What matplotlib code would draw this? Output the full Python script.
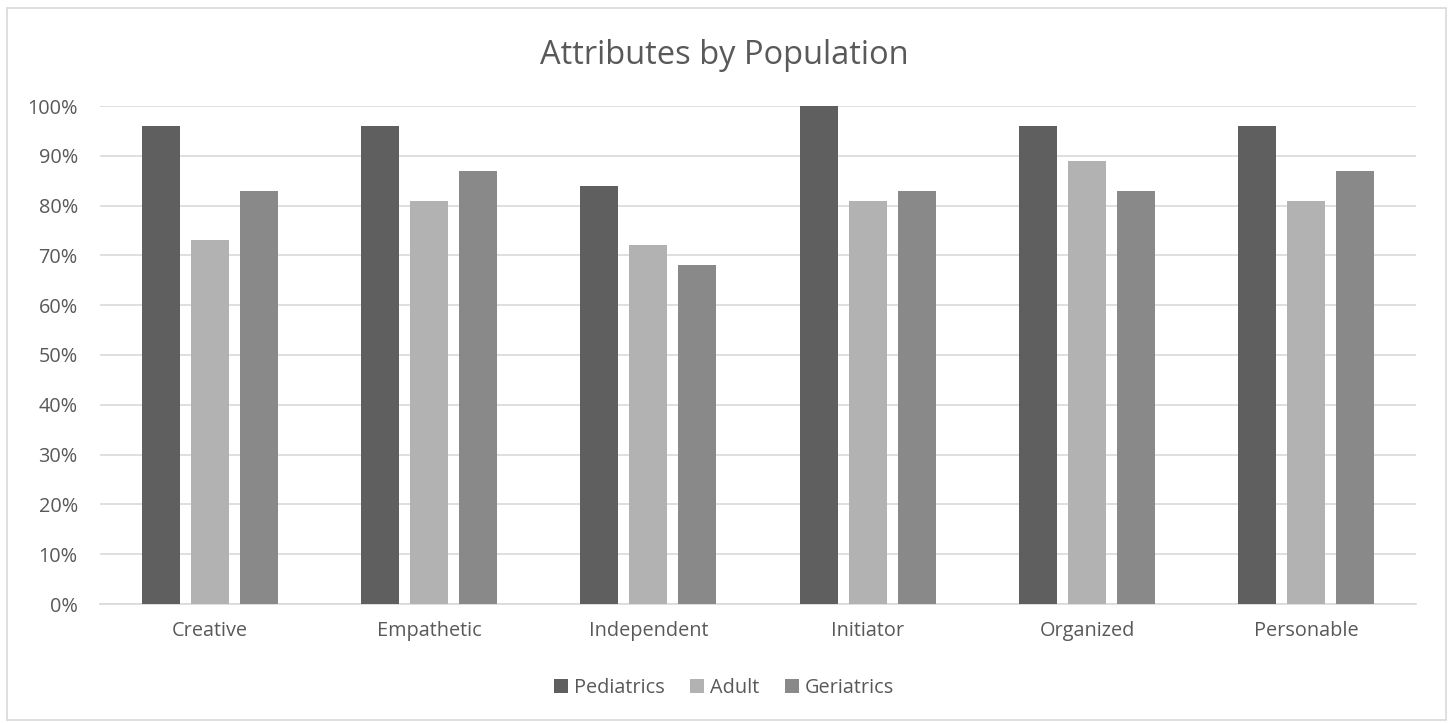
import matplotlib
matplotlib.use("Agg")
import matplotlib.pyplot as plt
import numpy as np
from matplotlib.patches import Rectangle
from matplotlib.ticker import FuncFormatter

categories = ["Creative", "Empathetic", "Independent", "Initiator", "Organized", "Personable"]
series_names = ["Pediatrics", "Adult", "Geriatrics"]
pediatrics = [96, 96, 84, 100, 96, 96]
adult = [73, 81, 72, 81, 89, 81]
geriatrics = [83, 87, 68, 83, 83, 87]
yticks = [0, 10, 20, 30, 40, 50, 60, 70, 80, 90, 100]

colors = ["#5f5f5f", "#b2b2b2", "#898989"]
text_color = "#595959"

plt.rcParams['font.family'] = ['Open Sans', 'DejaVu Sans']

fig = plt.figure(figsize=(14.48, 7.23), dpi=100)
fig.patch.set_facecolor("white")
fig.add_artist(Rectangle((7/1448, 1-720/723), (1446-7)/1448, (720-8)/723,
                         transform=fig.transFigure, fill=False,
                         edgecolor="#d9d9d9", linewidth=1.2))

ax = fig.add_axes([100/1448, 1-604/723, (1416-100)/1448, (604-106)/723])
x = np.arange(len(categories))
w = 0.173
step = 0.223
for i, (vals, name) in enumerate(zip([pediatrics, adult, geriatrics], series_names)):
    ax.bar(x + (i-1)*step, vals, width=w, color=colors[i], label=name, zorder=3)

ax.set_xlim(-0.5, len(categories)-0.5)
ax.set_ylim(0, 100)
ax.set_yticks(yticks)
ax.yaxis.set_major_formatter(FuncFormatter(lambda v, p: f"{int(v)}%"))
ax.set_xticks(x)
ax.set_xticklabels(categories)
ax.grid(axis="y", color="#d9d9d9", linewidth=1.2, zorder=0)
for s in ["top", "right", "left"]:
    ax.spines[s].set_visible(False)
ax.spines["bottom"].set_color("#d9d9d9")
ax.spines["bottom"].set_linewidth(1.2)
ax.tick_params(axis="both", length=0, colors=text_color, labelsize=14.3)
ax.tick_params(axis="y", pad=16)
ax.tick_params(axis="x", pad=12)

fig.text(0.5, 1-55/723, "Attributes by Population", ha="center", va="center",
         fontsize=23.5, color=text_color)

leg = fig.legend(loc="center", bbox_to_anchor=(0.5, 1-688/723), ncol=3, frameon=False,
                 fontsize=14.3, handlelength=0.7, handleheight=0.7, handletextpad=0.3,
                 columnspacing=1.3)
for t in leg.get_texts():
    t.set_color(text_color)

fig.savefig("out.png", dpi=100, facecolor="white")
